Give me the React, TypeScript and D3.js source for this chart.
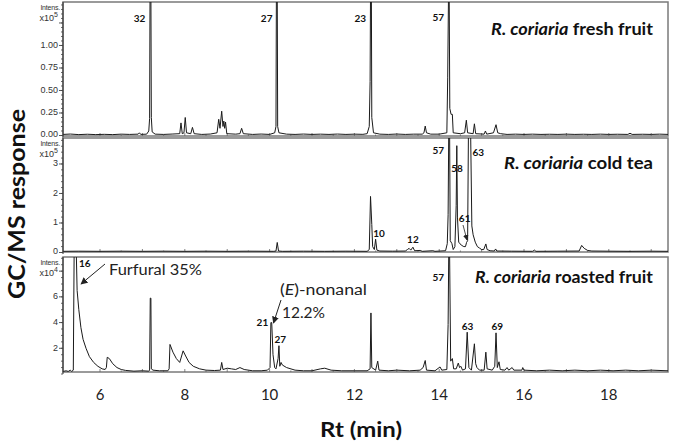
import React from "react";
import * as d3 from "d3";

type P = [number, number];

// x tick labels (Rt, min)
const xTicks = [6, 8, 10, 12, 14, 16, 18];

// y tick labels per panel
const freshTicks = [0, 0.25, 0.5, 0.75, 1.0];
const teaTicks = [0, 1, 2, 3];
const roastTicks = [2, 4, 6];

// Chromatogram traces: [Rt (min), intensity]
const freshTrace: P[] = [
  [5.13, 0.012], [5.3, 0.016], [5.5, 0.01], [5.7, 0.014], [5.9, 0.01], [6.1, 0.013], [6.3, 0.01], [6.5, 0.015],
  [6.7, 0.012], [6.9, 0.015], [6.93, 0.03], [6.96, 0.012], [7.1, 0.015], [7.15, 0.05], [7.17, 0.19], [7.18, 1.6],
  [7.2, 1.6], [7.21, 0.2], [7.23, 0.04], [7.3, 0.015], [7.5, 0.012], [7.7, 0.016], [7.88, 0.02], [7.91, 0.14],
  [7.94, 0.02], [7.98, 0.03], [8.01, 0.2], [8.04, 0.03], [8.14, 0.02], [8.18, 0.09], [8.22, 0.02], [8.4, 0.012],
  [8.6, 0.016], [8.76, 0.03], [8.8, 0.18], [8.83, 0.08], [8.87, 0.27], [8.9, 0.1], [8.92, 0.16], [8.94, 0.08],
  [8.96, 0.15], [8.99, 0.02], [9.2, 0.015], [9.3, 0.02], [9.34, 0.08], [9.38, 0.02], [9.6, 0.012], [9.8, 0.016],
  [10.0, 0.012], [10.12, 0.03], [10.15, 0.1], [10.16, 1.6], [10.18, 1.6], [10.19, 0.1], [10.22, 0.03], [10.4, 0.015],
  [10.6, 0.012], [10.8, 0.016], [11.0, 0.012], [11.2, 0.015], [11.4, 0.012], [11.6, 0.016], [11.8, 0.012],
  [12.0, 0.015], [12.2, 0.013], [12.3, 0.02], [12.35, 0.1], [12.37, 0.6], [12.38, 1.6], [12.4, 1.6], [12.41, 0.2],
  [12.45, 0.03], [12.6, 0.015], [12.8, 0.012], [13.0, 0.016], [13.2, 0.012], [13.4, 0.015], [13.6, 0.015],
  [13.64, 0.03], [13.67, 0.105], [13.7, 0.03], [13.8, 0.015], [14.0, 0.015], [14.18, 0.03], [14.2, 0.64],
  [14.22, 1.6], [14.235, 1.6], [14.25, 0.3], [14.28, 0.235], [14.31, 0.235], [14.33, 0.03], [14.5, 0.02],
  [14.6, 0.03], [14.64, 0.17], [14.67, 0.03], [14.8, 0.02], [14.83, 0.13], [14.86, 0.02], [15.06, 0.015],
  [15.09, 0.05], [15.12, 0.015], [15.28, 0.03], [15.34, 0.12], [15.38, 0.03], [15.45, 0.02], [15.6, 0.012],
  [15.8, 0.015], [16.0, 0.012], [16.2, 0.015], [16.4, 0.012], [16.6, 0.014], [16.8, 0.012], [17.0, 0.015],
  [17.2, 0.012], [17.4, 0.014], [17.6, 0.012], [17.8, 0.015], [18.0, 0.012], [18.2, 0.014], [18.45, 0.012],
  [18.5, 0.025], [18.55, 0.012], [18.8, 0.014], [19.0, 0.012], [19.2, 0.015], [19.4, 0.012],
];

const teaTrace: P[] = [
  [5.13, 0.04], [5.5, 0.045], [6.0, 0.04], [6.5, 0.045], [7.0, 0.04], [7.5, 0.045], [8.0, 0.04], [8.5, 0.045],
  [9.0, 0.04], [9.5, 0.045], [10.1, 0.04], [10.15, 0.05], [10.18, 0.34], [10.21, 0.05], [10.3, 0.04], [10.8, 0.045],
  [11.3, 0.04], [11.8, 0.045], [12.3, 0.04], [12.35, 0.1], [12.38, 1.9], [12.41, 0.95], [12.43, 0.2], [12.47, 0.1],
  [12.5, 0.45], [12.53, 0.08], [12.6, 0.05], [12.9, 0.045], [13.2, 0.05], [13.25, 0.1], [13.29, 0.14],
  [13.33, 0.08], [13.38, 0.18], [13.42, 0.06], [13.55, 0.07], [13.6, 0.04], [13.85, 0.06], [13.9, 0.04],
  [14.15, 0.06], [14.19, 0.3], [14.21, 1.28], [14.225, 4.2], [14.245, 4.2], [14.26, 0.4], [14.3, 0.3],
  [14.33, 0.1], [14.37, 0.2], [14.4, 1.6], [14.415, 3.62], [14.43, 1.2], [14.46, 0.35], [14.52, 0.25],
  [14.58, 0.2], [14.62, 0.2], [14.645, 0.34], [14.67, 0.4], [14.69, 4.2], [14.74, 4.2], [14.77, 0.9],
  [14.8, 0.6], [14.85, 0.35], [14.9, 0.2], [14.95, 0.15], [15.0, 0.1], [15.05, 0.1], [15.1, 0.29], [15.13, 0.1],
  [15.2, 0.06], [15.3, 0.05], [15.33, 0.12], [15.36, 0.05], [15.7, 0.045], [16.2, 0.04], [16.25, 0.08],
  [16.28, 0.04], [16.8, 0.045], [17.3, 0.05], [17.36, 0.24], [17.42, 0.14], [17.5, 0.07], [17.6, 0.05],
  [18.0, 0.045], [18.5, 0.04], [19.0, 0.045], [19.4, 0.04],
];

const roastTrace: P[] = [
  [5.13, 0.2], [5.2, 0.25], [5.25, 0.2], [5.3, 0.3], [5.33, 0.2], [5.37, 0.3], [5.39, 9.5], [5.44, 9.5],
  [5.46, 6.5], [5.5, 5.0], [5.55, 3.6], [5.6, 2.7], [5.67, 2.0], [5.75, 1.35], [5.85, 0.9], [5.95, 0.6],
  [6.05, 0.4], [6.12, 0.35], [6.15, 0.5], [6.17, 1.3], [6.22, 1.2], [6.3, 0.8], [6.4, 0.5], [6.5, 0.35],
  [6.6, 0.28], [6.8, 0.22], [7.0, 0.25], [7.15, 0.22], [7.17, 0.3], [7.185, 5.9], [7.2, 5.9], [7.21, 0.4],
  [7.25, 0.3], [7.4, 0.25], [7.6, 0.25], [7.63, 0.4], [7.65, 2.3], [7.72, 1.7], [7.8, 1.2], [7.88, 0.9],
  [7.96, 1.8], [8.02, 1.4], [8.1, 0.9], [8.2, 0.6], [8.35, 0.4], [8.5, 0.3], [8.7, 0.27], [8.84, 0.3],
  [8.87, 0.9], [8.9, 0.35], [9.0, 0.45], [9.1, 0.4], [9.2, 0.35], [9.3, 0.5], [9.4, 0.35], [9.6, 0.25],
  [9.8, 0.25], [9.95, 0.3], [10.01, 0.5], [10.03, 4.0], [10.05, 4.0], [10.08, 1.5], [10.12, 0.5], [10.15, 0.4],
  [10.2, 1.2], [10.22, 2.2], [10.24, 0.6], [10.27, 0.9], [10.3, 0.7], [10.4, 0.5], [10.6, 0.3], [10.8, 0.25],
  [11.0, 0.25], [11.2, 0.4], [11.3, 0.45], [11.45, 0.3], [11.7, 0.25], [12.0, 0.25], [12.3, 0.25],
  [12.37, 0.4], [12.39, 4.75], [12.41, 0.5], [12.5, 0.3], [12.55, 1.0], [12.58, 0.3], [12.8, 0.25],
  [13.0, 0.3], [13.3, 0.25], [13.55, 0.3], [13.62, 0.5], [13.67, 1.05], [13.7, 0.3], [13.9, 0.25],
  [14.02, 0.55], [14.06, 0.3], [14.18, 0.35], [14.21, 3.85], [14.225, 9.5], [14.245, 9.5], [14.27, 1.0],
  [14.31, 1.2], [14.34, 0.4], [14.4, 0.4], [14.45, 0.85], [14.48, 0.5], [14.51, 0.6], [14.55, 0.3],
  [14.62, 0.4], [14.66, 3.25], [14.7, 0.5], [14.76, 0.3], [14.83, 2.35], [14.86, 0.8], [14.89, 0.5],
  [14.95, 0.3], [15.06, 0.3], [15.1, 1.7], [15.13, 0.4], [15.25, 0.3], [15.31, 0.6], [15.34, 3.2],
  [15.37, 0.5], [15.41, 0.95], [15.44, 0.35], [15.55, 0.3], [15.6, 0.5], [15.64, 0.3], [15.72, 0.5],
  [15.76, 0.3], [15.95, 0.3], [15.97, 0.5], [16.0, 0.3], [16.3, 0.25], [16.6, 0.3], [16.9, 0.25],
  [17.2, 0.3], [17.5, 0.25], [17.8, 0.3], [18.1, 0.25], [18.4, 0.3], [18.7, 0.25], [19.0, 0.3], [19.4, 0.25],
];

// Peak labels: [Rt, intensity at label baseline, text]
const freshLabels: [number, number, string][] = [
  [6.93, 1.26, "32"], [9.93, 1.26, "27"], [12.14, 1.26, "23"], [13.98, 1.27, "57"],
];
const teaLabels: [number, number, string][] = [
  [13.98, 3.34, "57"], [14.42, 2.74, "58"], [14.92, 3.28, "63"], [14.6, 1.03, "61"], [12.58, 0.52, "10"], [13.38, 0.33, "12"],
];
const roastLabels: [number, number, string][] = [
  [5.64, 8.3, "16"], [9.83, 3.7, "21"], [10.25, 2.45, "27"], [13.98, 7.25, "57"], [14.67, 3.45, "63"], [15.37, 3.45, "69"],
];

const X0 = 63, X1 = 668;
const panels = [
  { key: "fresh", top: 2, bottom: 136, zeroY: 135.5, max: 1.483, trace: freshTrace, ticks: freshTicks, fmt: (v: number) => v.toFixed(2), minor: 0.05, extraMajor: [1.25], exp: "5", title: "fresh fruit", titleY: 35, titleLen: 162, labels: freshLabels },
  { key: "tea", top: 138, bottom: 252, zeroY: 252.5, max: 3.88, trace: teaTrace, ticks: teaTicks, fmt: (v: number) => String(v), minor: 0.2, extraMajor: [], exp: "5", title: "cold tea", titleY: 169, titleLen: 149, labels: teaLabels },
  { key: "roast", top: 257, bottom: 372, zeroY: 374, max: 9.1, trace: roastTrace, ticks: roastTicks, fmt: (v: number) => String(v), minor: 0.5, extraMajor: [8], exp: "4", title: "roasted fruit", titleY: 282.5, titleLen: 178, labels: roastLabels },
];

const x = d3.scaleLinear().domain([5.127, 19.396]).range([X0, X1]);

export default function App() {
  const font = "Lato, 'Open Sans', sans-serif";
  const small = "'Liberation Sans', Arial, sans-serif";
  return (
    <svg width={673} height={443} style={{ position: "absolute", left: 0, top: 0, background: "#fff" }} fontFamily={font}>
      <defs>
        {panels.map((p) => (
          <clipPath id={"clip-" + p.key} key={p.key}>
            <rect x={X0} y={p.top} width={X1 - X0} height={p.bottom - p.top} />
          </clipPath>
        ))}
        <marker id="arr" viewBox="0 0 10 10" refX="9" refY="5" markerWidth="7" markerHeight="7" orient="auto-start-reverse">
          <path d="M0,0 L10,5 L0,10 z" fill="#222" />
        </marker>
      </defs>
      {panels.map((p) => {
        const yy = d3.scaleLinear().domain([0, 1]).range([p.zeroY, p.zeroY - (p.zeroY - p.top) / p.max]);
        const line = d3.line<P>().x((d) => x(d[0])).y((d) => yy(d[1]));
        const minorTicks = d3.range(0, p.max, p.minor).filter((v) => yy(v) >= p.top && yy(v) <= p.bottom + 2);
        const majors = [...p.ticks, ...p.extraMajor];
        const xMinor = d3.range(6, 19.5, 0.5);
        return (
          <g key={p.key}>
            <rect x={X0} y={p.top} width={X1 - X0} height={p.bottom - p.top} fill="none" stroke="#7a7a7a" strokeWidth={1.5} />
            {xMinor.map((t) => (
              <line key={"xt" + t} x1={x(t)} x2={x(t)} y1={p.bottom} y2={p.bottom - (t % 1 === 0 ? 3 : 1.5)} stroke="#666" strokeWidth={0.8} />
            ))}
            <path d={line(p.trace) || ""} fill="none" stroke="#1a1a1a" strokeWidth={1} clipPath={`url(#clip-${p.key})`} />
            <line x1={X0} x2={X0} y1={p.top} y2={p.bottom + 2} stroke="#333" strokeWidth={1} />
            {minorTicks.map((v) => (
              <line key={"mt" + v} x1={X0 - 2} x2={X0} y1={yy(v)} y2={yy(v)} stroke="#444" strokeWidth={0.8} />
            ))}
            {majors.map((v) => (
              <line key={"Mt" + v} x1={X0 - 4} x2={X0} y1={yy(v)} y2={yy(v)} stroke="#444" strokeWidth={0.9} />
            ))}
            {p.ticks.map((v) => (
              <text key={"tl" + v} x={X0 - 5} y={yy(v) + 2.5 - (v === 0 ? 1 : 0)} textAnchor="end" fontSize={9} fontFamily={small} fill="#333">
                {p.fmt(v)}
              </text>
            ))}
            <text x={X0 - 3} y={p.top + 8} textAnchor="end" fontSize={7} fontFamily={small} fill="#333" letterSpacing={-0.2}>Intens.</text>
            <text x={X0 - 5} y={p.top + 18.5} textAnchor="end" fontSize={9} fontFamily={small} fill="#333">
              x10<tspan dy={-4} fontSize={7}>{p.exp}</tspan>
            </text>
            <text x={653} y={p.titleY} textAnchor="end" fontSize={17} fontWeight="bold" fill="#111" textLength={p.titleLen} lengthAdjust="spacingAndGlyphs">
              <tspan fontStyle="italic">R. coriaria</tspan> {p.title}
            </text>
            {p.labels.map(([t, v, s]) => (
              <text key={"pl" + s} x={x(t)} y={yy(v)} textAnchor="middle" fontSize={10} fontWeight="bold" fill="#111">{s}</text>
            ))}
          </g>
        );
      })}
      {/* Annotations in roasted panel */}
      <line x1={105} y1={264} x2={81} y2={284} stroke="#222" strokeWidth={1} markerEnd="url(#arr)" />
      <text x={109} y={274.5} fontSize={14.5} fill="#222" textLength={93} lengthAdjust="spacingAndGlyphs">Furfural 35%</text>
      <text x={280} y={295} fontSize={14.5} fill="#222" textLength={87} lengthAdjust="spacingAndGlyphs">
        (<tspan fontStyle="italic">E</tspan>)-nonanal
      </text>
      <text x={282} y={318} fontSize={14.5} fill="#222" textLength={43} lengthAdjust="spacingAndGlyphs">12.2%</text>
      <line x1={281} y1={300} x2={273.5} y2={323} stroke="#222" strokeWidth={1} markerEnd="url(#arr)" />
      <line x1={463} y1={225} x2={467} y2={240} stroke="#222" strokeWidth={0.8} markerEnd="url(#arr)" />
      {/* x axis tick labels */}
      {xTicks.map((t) => (
        <text key={"xl" + t} x={x(t)} y={400} textAnchor="middle" fontSize={15} fill="#222">{t}</text>
      ))}
      <text x={361} y={437} textAnchor="middle" fontSize={21} fontWeight="bold" fill="#111" textLength={82} lengthAdjust="spacingAndGlyphs">Rt (min)</text>
      <text transform="translate(25,204) rotate(-90)" textAnchor="middle" fontSize={22} fontWeight="bold" fill="#111" textLength={190} lengthAdjust="spacingAndGlyphs">GC/MS response</text>
    </svg>
  );
}
